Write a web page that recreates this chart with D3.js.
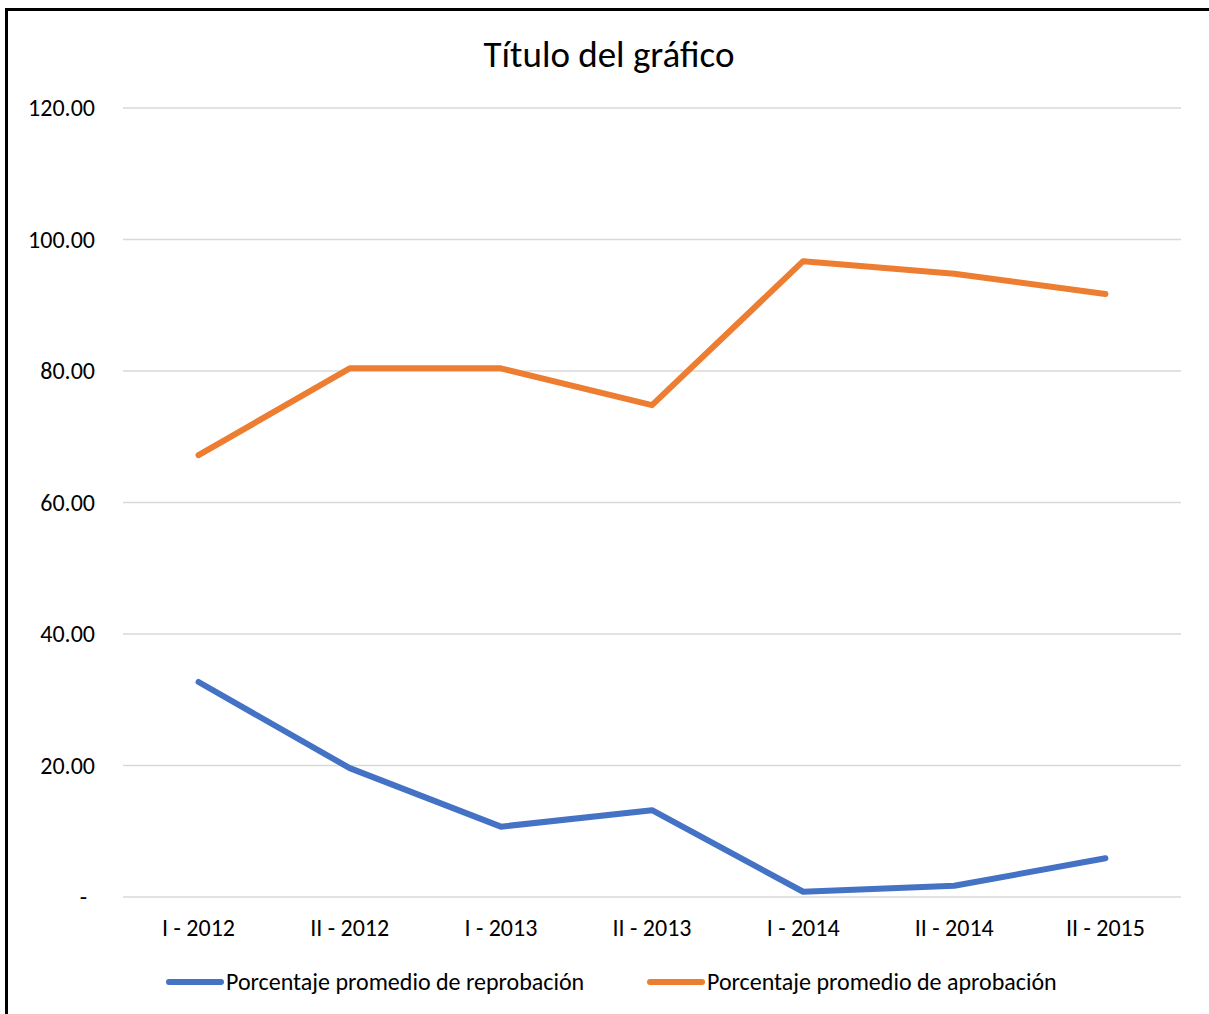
<!DOCTYPE html>
<html>
<head>
<meta charset="utf-8">
<script src="https://cdn.jsdelivr.net/npm/d3@7"></script>
<style>
  body { margin: 0; background: #fff; }
  svg { display: block; }
</style>
</head>
<body>
<div id="chart"></div>
<script>
// Data
const categories = ["I - 2012", "II - 2012", "I - 2013", "II - 2013", "I - 2014", "II - 2014", "II - 2015"];
const reprobacion = [32.7, 19.6, 10.7, 13.2, 0.8, 1.7, 5.9];
const aprobacion = [67.2, 80.4, 80.4, 74.8, 96.7, 94.8, 91.7];
const yTicks = [0, 20, 40, 60, 80, 100, 120];
const seriesNames = ["Porcentaje promedio de reprobación", "Porcentaje promedio de aprobación"];
const seriesColors = ["#4472C4", "#ED7D31"];

const width = 1209;
const height = 1014;
const font = "Calibri, Carlito, 'Open Sans', sans-serif";

const svg = d3.select("#chart").append("svg")
  .attr("width", width)
  .attr("height", height);

// chart frame
svg.append("rect")
  .attr("x", 6.5).attr("y", 9.5)
  .attr("width", 1220).attr("height", 1020)
  .attr("fill", "#fff")
  .attr("stroke", "#000")
  .attr("stroke-width", 3);

const x = d3.scaleBand()
  .domain(categories)
  .range([123, 1181]);

const y = d3.scaleLinear()
  .domain([0, 120])
  .range([897, 108]);

// title
svg.append("text")
  .attr("x", 609).attr("y", 67)
  .attr("text-anchor", "middle")
  .style("font-family", font)
  .style("font-size", "37px")
  .attr("fill", "#000")
  .text("Título del gráfico");

// gridlines
svg.append("g")
  .selectAll("line")
  .data(yTicks)
  .join("line")
    .attr("x1", 123).attr("x2", 1181)
    .attr("y1", d => y(d)).attr("y2", d => y(d))
    .attr("stroke", "#d9d9d9")
    .attr("stroke-width", 1.5);

// y axis labels
const yAxis = svg.append("g")
  .attr("transform", "translate(95,0)")
  .call(d3.axisLeft(y).tickValues(yTicks).tickSize(0).tickPadding(0)
    .tickFormat(d => d === 0 ? "-" : d3.format(".2f")(d)));
yAxis.select(".domain").remove();
yAxis.selectAll("text")
  .style("font-family", font)
  .style("font-size", "24px")
  .attr("fill", "#000");
yAxis.selectAll(".tick").filter(d => d === 0).select("text")
  .attr("x", -8);

// x axis labels
const xAxis = svg.append("g")
  .attr("transform", "translate(0,897)")
  .call(d3.axisBottom(x).tickSize(0).tickPadding(22));
xAxis.select(".domain").remove();
xAxis.selectAll("text")
  .style("font-family", font)
  .style("font-size", "24px")
  .attr("fill", "#000");

// lines
const line = d3.line()
  .x((d, i) => x(categories[i]) + x.bandwidth() / 2)
  .y(d => y(d));

[reprobacion, aprobacion].forEach((s, i) => {
  svg.append("path")
    .datum(s)
    .attr("d", line)
    .attr("fill", "none")
    .attr("stroke", seriesColors[i])
    .attr("stroke-width", 6)
    .attr("stroke-linejoin", "round")
    .attr("stroke-linecap", "round");
});

// legend
const legendX = [167, 648];
const legend = svg.append("g")
  .selectAll("g")
  .data(seriesNames)
  .join("g")
    .attr("transform", (d, i) => `translate(${legendX[i]},982)`);
legend.append("line")
  .attr("x1", 2).attr("x2", 54)
  .attr("stroke", (d, i) => seriesColors[i])
  .attr("stroke-width", 6)
  .attr("stroke-linecap", "round");
legend.append("text")
  .attr("x", 59).attr("dy", "0.35em")
  .style("font-family", font)
  .style("font-size", "24px")
  .attr("fill", "#000")
  .text(d => d);
</script>
</body>
</html>
